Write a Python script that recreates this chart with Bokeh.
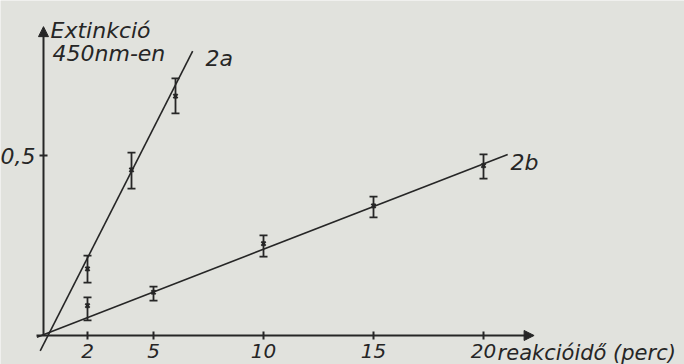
from bokeh.plotting import figure
from bokeh.models import (Range1d, LinearAxis, FixedTicker, ColumnDataSource,
                          Whisker, TeeHead, Arrow, NormalHead, Label)
from bokeh.embed import file_html
from bokeh.resources import INLINE

# ---- data ----
time_a = [2, 4, 6]
ext_a = [0.185, 0.46, 0.665]
ext_a_low = [0.147, 0.408, 0.617]
ext_a_high = [0.222, 0.508, 0.714]

time_b = [2, 5, 10, 15, 20]
ext_b = [0.083, 0.12, 0.255, 0.36, 0.472]
ext_b_low = [0.042, 0.097, 0.219, 0.328, 0.436]
ext_b_high = [0.106, 0.136, 0.278, 0.386, 0.503]

fit_a_x = [-0.15, 6.78]
fit_a_y = [-0.043, 0.79]
fit_b_x = [-0.3, 21.1]
fit_b_y = [-0.005, 0.503]

x_ticks = [2, 5, 10, 15, 20]
y_ticks = [0.5]
y_tick_labels = {0.5: "0,5"}

x_axis_end = 22.3
y_axis_end = 0.858

INK = "#262626"
BG = "#e1e2dd"
FONT = "DejaVu Sans"
FS = "22px"

p = figure(width=684, height=364,
           x_range=Range1d(-1.9545, 29.136), y_range=Range1d(-0.0806, 0.9306),
           output_backend="svg", toolbar_location=None,
           x_axis_type=None, y_axis_type=None, min_border=0,
           background_fill_color=BG, border_fill_color=BG,
           outline_line_color=None)

common = dict(axis_line_color=INK, axis_line_width=2,
              major_tick_line_color=INK, major_tick_line_width=2,
              minor_tick_line_color=None,
              major_label_text_font=FONT, major_label_text_font_style="italic",
              major_label_text_color=INK)

xaxis = LinearAxis(fixed_location=0, bounds=(-0.3, x_axis_end - 0.4),
                   ticker=FixedTicker(ticks=x_ticks),
                   major_tick_in=4, major_tick_out=4, major_label_standoff=5,
                   major_label_text_font_size="20px", **common)
p.add_layout(xaxis, "below")

yaxis = LinearAxis(fixed_location=0, bounds=(0, y_axis_end - 0.02),
                   ticker=FixedTicker(ticks=y_ticks),
                   major_label_overrides=y_tick_labels,
                   major_tick_in=4, major_tick_out=4, major_label_standoff=4,
                   major_label_text_font_size=FS, **common)
p.add_layout(yaxis, "left")

# axis arrow heads
p.add_layout(Arrow(x_start=x_axis_end - 0.45, y_start=0, x_end=x_axis_end, y_end=0,
                   line_color=INK, line_width=2,
                   end=NormalHead(size=10, fill_color=INK, line_color=INK, line_width=1)))
p.add_layout(Arrow(x_start=0, y_start=y_axis_end - 0.025, x_end=0, y_end=y_axis_end,
                   line_color=INK, line_width=2,
                   end=NormalHead(size=10, fill_color=INK, line_color=INK, line_width=1)))

# fitted lines
p.line(fit_a_x, fit_a_y, line_color=INK, line_width=1.6)
p.line(fit_b_x, fit_b_y, line_color=INK, line_width=1.6)

# error bars and points
for xs, ys, lo, hi in [(time_a, ext_a, ext_a_low, ext_a_high),
                       (time_b, ext_b, ext_b_low, ext_b_high)]:
    src = ColumnDataSource(dict(x=xs, y=ys, lower=lo, upper=hi))
    p.add_layout(Whisker(source=src, base="x", lower="lower", upper="upper",
                         line_color=INK, line_width=1.8,
                         upper_head=TeeHead(size=8, line_color=INK, line_width=1.8),
                         lower_head=TeeHead(size=8, line_color=INK, line_width=1.8)))
    p.scatter("x", "y", source=src, marker="x", size=6, line_color=INK, line_width=2)

def lab(text, x, y, size=FS):
    p.add_layout(Label(x=x, y=y, text=text, text_font=FONT, text_font_style="italic",
                       text_font_size=size, text_color=INK, text_baseline="alphabetic"))

lab("Extinkció", 0.32, 0.847)
lab("450nm-en", 0.41, 0.783)
lab("2a", 7.36, 0.769)
lab("2b", 21.23, 0.481)
lab("reakcióidő (perc)", 20.64, -0.05, size="21px")

open("out.html", "w").write(file_html(p, INLINE))
